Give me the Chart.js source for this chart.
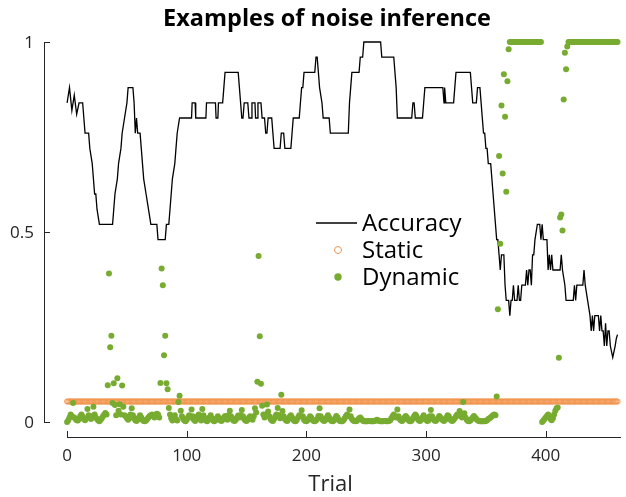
<!DOCTYPE html>
<html>
<head>
<meta charset="utf-8">
<title>Examples of noise inference</title>
<script src="https://cdn.jsdelivr.net/npm/chart.js@4.4.1/dist/chart.umd.min.js"></script>
<style>
  html, body { margin: 0; padding: 0; background: #fff; }
  canvas { display: block; }
</style>
</head>
<body>
<canvas id="chart" width="626" height="497"></canvas>
<script>
// ---- data ----
var title = 'Examples of noise inference';
var xLabel = 'Trial';
var xTicks = [0, 100, 200, 300, 400];
var yTicks = [0, 0.5, 1];
var yTickLabels = ['0', '0.5', '1'];
var seriesNames = ['Accuracy', 'Static', 'Dynamic'];

// accuracy (running window) as [trial, value] vertices of the black line
var accuracyPts = [
    [0,0.84],[2,0.88],[4,0.82],[6,0.86],[8,0.81],[10,0.84],[13,0.84],[15,0.76],[18,0.76],[19,0.72],
    [21,0.68],[22,0.64],[23,0.6],[24,0.6],[25,0.56],[27,0.52],[38,0.52],[39,0.56],[40,0.6],[42,0.64],
    [43,0.68],[45,0.72],[46,0.76],[48,0.8],[50,0.84],[51,0.88],[55,0.88],[56,0.84],[57,0.76],[58,0.8],
    [59,0.76],[61,0.76],[62,0.72],[63,0.68],[64,0.64],[66,0.6],[68,0.56],[70,0.52],[75,0.52],[76,0.48],
    [82,0.48],[83,0.52],[85,0.52],[86,0.56],[87,0.6],[88,0.64],[90,0.68],[91,0.72],[92,0.76],[94,0.8],
    [104,0.8],[104.5,0.84],[107,0.84],[107.5,0.8],[116,0.8],[116.5,0.84],[124,0.84],[124.5,0.8],[126,0.8],[126.5,0.84],
    [130,0.84],[131,0.88],[132,0.92],[143,0.92],[144,0.88],[145,0.84],[146,0.8],[147,0.8],[148,0.84],[151,0.84],
    [152,0.8],[154,0.8],[154.5,0.84],[157,0.84],[157.5,0.8],[159,0.8],[159.5,0.84],[162,0.84],[163,0.8],[165,0.8],
    [166,0.76],[167,0.76],[168,0.8],[171,0.8],[172,0.76],[173,0.72],[178,0.72],[179,0.76],[181,0.76],[182,0.72],
    [187,0.72],[188,0.76],[189,0.8],[194,0.8],[195,0.84],[196,0.88],[197,0.88],[198,0.92],[207,0.92],[208,0.96],
    [209,0.96],[211,0.88],[213,0.84],[214,0.8],[219,0.8],[220,0.76],[235,0.76],[236,0.84],[237,0.88],[238,0.92],
    [244,0.92],[245,0.96],[247,0.96],[248,1],[262,1],[263,0.96],[273,0.96],[275,0.88],[276,0.8],[288,0.8],
    [289,0.84],[290,0.84],[291,0.8],[297,0.8],[298,0.84],[299,0.88],[314,0.88],[315,0.84],[315.5,0.88],[316.5,0.84],
    [323,0.84],[324,0.88],[325,0.92],[337,0.92],[338,0.88],[339,0.84],[342,0.84],[343,0.88],[345,0.88],[346,0.84],
    [347,0.8],[348,0.76],[349,0.76],[350,0.72],[351,0.72],[352,0.68],[354,0.68],[355,0.64],[356,0.6],[357,0.56],
    [358,0.52],[359,0.48],[360,0.48],[361,0.44],[362,0.4],[363,0.44],[365,0.44],[366,0.36],[367,0.32],[369,0.32],
    [370,0.28],[371,0.32],[372,0.32],[373,0.36],[374,0.32],[376,0.32],[377,0.36],[378,0.32],[379,0.32],[380,0.36],
    [383,0.36],[384,0.4],[385,0.36],[386,0.4],[387,0.4],[388,0.36],[389,0.44],[390,0.44],[391,0.48],[393,0.52],
    [395,0.52],[396,0.48],[397,0.52],[398,0.48],[401,0.48],[402,0.4],[403,0.44],[404,0.4],[405,0.44],[406,0.4],
    [412,0.4],[413,0.44],[414,0.4],[416,0.36],[417,0.32],[423,0.32],[424,0.36],[425,0.32],[426,0.36],[431,0.36],
    [432,0.4],[433,0.36],[435,0.32],[437,0.28],[438,0.24],[439,0.28],[440,0.24],[441,0.28],[444,0.28],[445,0.24],
    [446,0.28],[447,0.24],[448,0.24],[449,0.2],[450,0.26],[451,0.2],[452,0.24],[453,0.24],[454,0.2],[456,0.17],
    [458,0.2],[459,0.22],[460,0.23]
];

// static noise estimate, the same level on every trial
var staticLevel = 0.054;
var nTrials = 461;

// dynamic noise estimate, one value per trial (0..460)
var dynamicVals = [
    0.000,0.005,0.012,0.020,0.015,0.050,0.012,0.008,0.005,0.004,0.008,0.015,0.020,0.014,0.008,0.005,0.010,0.034,0.018,0.012,
    0.008,0.015,0.040,0.020,0.012,0.008,0.004,0.002,0.006,0.010,0.015,0.020,0.024,0.020,0.097,0.391,0.197,0.227,0.050,0.102,
    0.045,0.018,0.115,0.030,0.047,0.020,0.096,0.040,0.018,0.015,0.010,0.006,0.010,0.020,0.036,0.018,0.010,0.005,0.003,0.006,
    0.012,0.018,0.012,0.006,0.003,0.002,0.004,0.008,0.012,0.016,0.018,0.020,0.015,0.012,0.018,0.022,0.020,0.012,0.103,0.404,
    0.360,0.176,0.227,0.102,0.086,0.037,0.020,0.010,0.004,0.010,0.018,0.008,0.004,0.053,0.069,0.030,0.015,0.008,0.004,0.002,
    0.006,0.012,0.018,0.012,0.033,0.015,0.006,0.003,0.008,0.015,0.020,0.010,0.004,0.034,0.018,0.010,0.004,0.002,0.006,0.012,
    0.018,0.010,0.004,0.002,0.005,0.010,0.015,0.010,0.005,0.003,0.006,0.012,0.016,0.012,0.006,0.018,0.030,0.015,0.008,0.004,
    0.003,0.006,0.012,0.017,0.012,0.018,0.032,0.015,0.008,0.004,0.003,0.006,0.012,0.015,0.010,0.006,0.015,0.036,0.025,0.106,
    0.437,0.226,0.101,0.043,0.020,0.012,0.020,0.046,0.028,0.015,0.008,0.004,0.003,0.008,0.015,0.020,0.037,0.018,0.010,0.072,
    0.029,0.015,0.008,0.004,0.003,0.008,0.014,0.018,0.012,0.006,0.003,0.002,0.006,0.012,0.018,0.015,0.031,0.015,0.006,0.003,
    0.002,0.005,0.010,0.015,0.012,0.006,0.003,0.002,0.004,0.008,0.016,0.036,0.015,0.008,0.004,0.003,0.006,0.012,0.018,0.012,
    0.006,0.003,0.002,0.004,0.010,0.016,0.012,0.006,0.003,0.002,0.002,0.005,0.010,0.016,0.020,0.015,0.033,0.015,0.008,0.004,
    0.003,0.002,0.003,0.006,0.010,0.012,0.008,0.004,0.002,0.002,0.002,0.002,0.003,0.003,0.002,0.002,0.002,0.003,0.004,0.006,
    0.004,0.003,0.002,0.002,0.002,0.003,0.003,0.002,0.002,0.003,0.005,0.010,0.015,0.020,0.015,0.012,0.033,0.015,0.008,0.004,
    0.003,0.006,0.012,0.016,0.012,0.006,0.003,0.002,0.004,0.010,0.015,0.020,0.015,0.008,0.004,0.003,0.006,0.012,0.018,0.012,
    0.006,0.003,0.004,0.015,0.032,0.015,0.008,0.004,0.003,0.006,0.010,0.016,0.012,0.008,0.005,0.003,0.006,0.012,0.018,0.015,
    0.008,0.004,0.003,0.006,0.010,0.015,0.020,0.018,0.029,0.015,0.012,0.053,0.023,0.012,0.006,0.003,0.002,0.004,0.008,0.012,
    0.016,0.012,0.008,0.005,0.003,0.002,0.002,0.002,0.002,0.002,0.003,0.005,0.008,0.010,0.012,0.015,0.018,0.020,0.018,0.067,
    0.297,0.700,0.469,0.833,0.654,0.915,0.803,0.606,0.897,0.981,1,1,1,1,1,1,1,1,1,1,
    1,1,1,1,1,1,1,1,1,1,1,1,1,1,1,1,1,0.000,0.004,0.008,
    0.012,0.016,0.020,0.015,0.008,0.005,0.010,0.020,0.030,0.036,0.038,0.169,0.538,0.546,0.504,0.849,0.972,0.928,0.988,1,
    1,1,1,1,1,1,1,1,1,1,1,1,1,1,1,1,1,1,1,1,
    1,1,1,1,1,1,1,1,1,1,1,1,1,1,1,1,1,1,1,1,
    1
];

// ---- build the chart ----
var staticVals = new Array(nTrials).fill(staticLevel);

var accData = accuracyPts.map(function (p) { return {x: p[0], y: p[1]}; });
var staticData = staticVals.map(function (v, i) { return {x: i, y: v}; });
var dynamicData = dynamicVals.map(function (v, i) { return {x: i, y: v}; });

var axisColor = '#262626';
var orange = 'rgb(242,150,80)';
var green = 'rgb(119,172,48)';
var fontName = '"Open Sans", "DejaVu Sans", sans-serif';

// MATLAB-like detached axes, ticks pointing inwards
var axesPlugin = {
    id: 'matlabAxes',
    beforeDatasetsDraw: function (chart) {
        var ctx = chart.ctx;
        var xs = chart.scales.x, ys = chart.scales.y;
        var left = chart.chartArea.left, bottom = chart.chartArea.bottom;
        ctx.save();
        ctx.strokeStyle = axisColor;
        ctx.lineWidth = 1;
        ctx.beginPath();
        // y axis
        ctx.moveTo(left + 0.5, ys.getPixelForValue(1));
        ctx.lineTo(left + 0.5, ys.getPixelForValue(0));
        yTicks.forEach(function (t) {
            var py = Math.round(ys.getPixelForValue(t)) + 0.5;
            ctx.moveTo(left, py);
            ctx.lineTo(left + 6, py);
        });
        // x axis
        ctx.moveTo(xs.getPixelForValue(0), bottom - 0.5);
        ctx.lineTo(chart.chartArea.right, bottom - 0.5);
        xTicks.forEach(function (t) {
            var px = Math.round(xs.getPixelForValue(t)) + 0.5;
            ctx.moveTo(px, bottom);
            ctx.lineTo(px, bottom - 7);
        });
        ctx.stroke();

        ctx.fillStyle = axisColor;
        ctx.font = '17px ' + fontName;
        ctx.textAlign = 'right';
        ctx.textBaseline = 'middle';
        yTicks.forEach(function (t, i) {
            ctx.fillText(yTickLabels[i], left - 10, ys.getPixelForValue(t) + 1);
        });
        ctx.textAlign = 'center';
        xTicks.forEach(function (t) {
            ctx.fillText(String(t), xs.getPixelForValue(t), bottom + 18);
        });
        ctx.font = '22px ' + fontName;
        ctx.fillText(xLabel, (left + chart.chartArea.right) / 2 - 2, bottom + 47);
        ctx.restore();
    },
    afterDatasetsDraw: function (chart) {
        var ctx = chart.ctx;
        ctx.save();
        // title
        ctx.fillStyle = '#000';
        ctx.font = 'bold 23.5px ' + fontName;
        ctx.textAlign = 'center';
        ctx.textBaseline = 'alphabetic';
        ctx.fillText(title, 327, 26);

        // legend inside the plot
        var lx = 316, tx = 362;
        var rows = [223, 250, 277];
        ctx.strokeStyle = '#000';
        ctx.lineWidth = 1.3;
        ctx.beginPath();
        ctx.moveTo(lx, rows[0]);
        ctx.lineTo(lx + 41, rows[0]);
        ctx.stroke();
        ctx.strokeStyle = orange;
        ctx.lineWidth = 1;
        ctx.beginPath();
        ctx.arc(lx + 22, rows[1], 3.5, 0, Math.PI * 2);
        ctx.stroke();
        ctx.fillStyle = green;
        ctx.beginPath();
        ctx.arc(lx + 22, rows[2], 3.7, 0, Math.PI * 2);
        ctx.fill();

        ctx.fillStyle = '#000';
        ctx.font = '24px ' + fontName;
        ctx.textAlign = 'left';
        ctx.textBaseline = 'middle';
        seriesNames.forEach(function (name, i) {
            ctx.fillText(name, tx, rows[i] + 1);
        });
        ctx.restore();
    }
};

var ctx = document.getElementById('chart').getContext('2d');
var chart = new Chart(ctx, {
    type: 'scatter',
    data: {
        datasets: [{
            label: seriesNames[0],
            data: accData,
            showLine: true,
            borderColor: '#000',
            borderWidth: 1.3,
            pointRadius: 0,
            tension: 0,
            clip: false,
            order: 2
        }, {
            label: seriesNames[1],
            data: staticData,
            pointStyle: 'circle',
            pointRadius: 2.6,
            pointBorderWidth: 1,
            borderColor: orange,
            backgroundColor: 'rgba(255,255,255,0)',
            clip: false,
            order: 1
        }, {
            label: seriesNames[2],
            data: dynamicData,
            pointRadius: 3,
            pointBorderWidth: 0,
            backgroundColor: green,
            borderColor: green,
            clip: false,
            order: 0
        }]
    },
    options: {
        responsive: false,
        animation: false,
        layout: { padding: { left: 44, right: 0, top: 42, bottom: 59 } },
        scales: {
            x: { type: 'linear', display: false, min: -19.3, max: 462.9 },
            y: { type: 'linear', display: false, min: -0.042, max: 1 }
        },
        plugins: {
            legend: { display: false },
            tooltip: { enabled: false },
            title: { display: false }
        }
    },
    plugins: [axesPlugin]
});
</script>
</body>
</html>
